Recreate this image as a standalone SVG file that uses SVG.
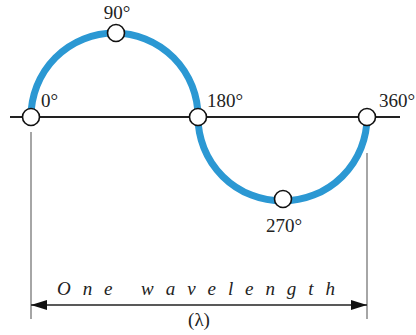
<svg xmlns="http://www.w3.org/2000/svg" width="416" height="335" viewBox="0 0 416 335">
<style>
.wave{fill:none;stroke:#2b98d3;stroke-width:7}
.axis{stroke:#222;stroke-width:2}
.pt{fill:#fff;stroke:#111;stroke-width:1.6}
.dim{stroke:#888;stroke-width:1.5}
.lbl{font-family:'Liberation Serif',serif;font-size:19px;fill:#222}
.cap{font-family:'Liberation Serif',serif;font-size:19px;font-style:italic;fill:#222}
</style>
<defs>
<marker id="ah" viewBox="0 0 16 10" refX="16" refY="5" markerWidth="16" markerHeight="10" markerUnits="userSpaceOnUse" orient="auto-start-reverse">
<path d="M0,0 L16,5 L0,10 Z" fill="#111"/>
</marker>
</defs>
<g id="connectors">
<line class="axis" x1="10" y1="117" x2="400" y2="117"/>
<path class="wave" d="M31,117 A83.5,84 0 0 1 198,117 A84.5,84 0 0 0 367,117"/>
<line class="dim" x1="31" y1="132" x2="31" y2="319"/>
<line class="dim" x1="367" y1="153" x2="367" y2="319"/>
<line x1="31" y1="305" x2="367" y2="305" stroke="#222" stroke-width="1.3" marker-start="url(#ah)" marker-end="url(#ah)"/>
</g>
<g id="p0"><circle class="pt" cx="31" cy="117" r="8.5"/><text class="lbl" x="41" y="107">0°</text></g>
<g id="p90"><circle class="pt" cx="116" cy="33" r="8.5"/><text class="lbl" x="117" y="19" text-anchor="middle">90°</text></g>
<g id="p180"><circle class="pt" cx="198" cy="117" r="8.5"/><text class="lbl" x="207" y="107">180°</text></g>
<g id="p270"><circle class="pt" cx="283" cy="199" r="8.5"/><text class="lbl" x="284" y="232" text-anchor="middle">270°</text></g>
<g id="p360"><circle class="pt" cx="367" cy="117" r="8.5"/><text class="lbl" x="379" y="107">360°</text></g>
<g id="caption">
<text class="cap" x="57" y="295" textLength="278" lengthAdjust="spacing">One wavelength</text>
<text class="lbl" x="199" y="326" text-anchor="middle">(λ)</text>
</g>
</svg>
